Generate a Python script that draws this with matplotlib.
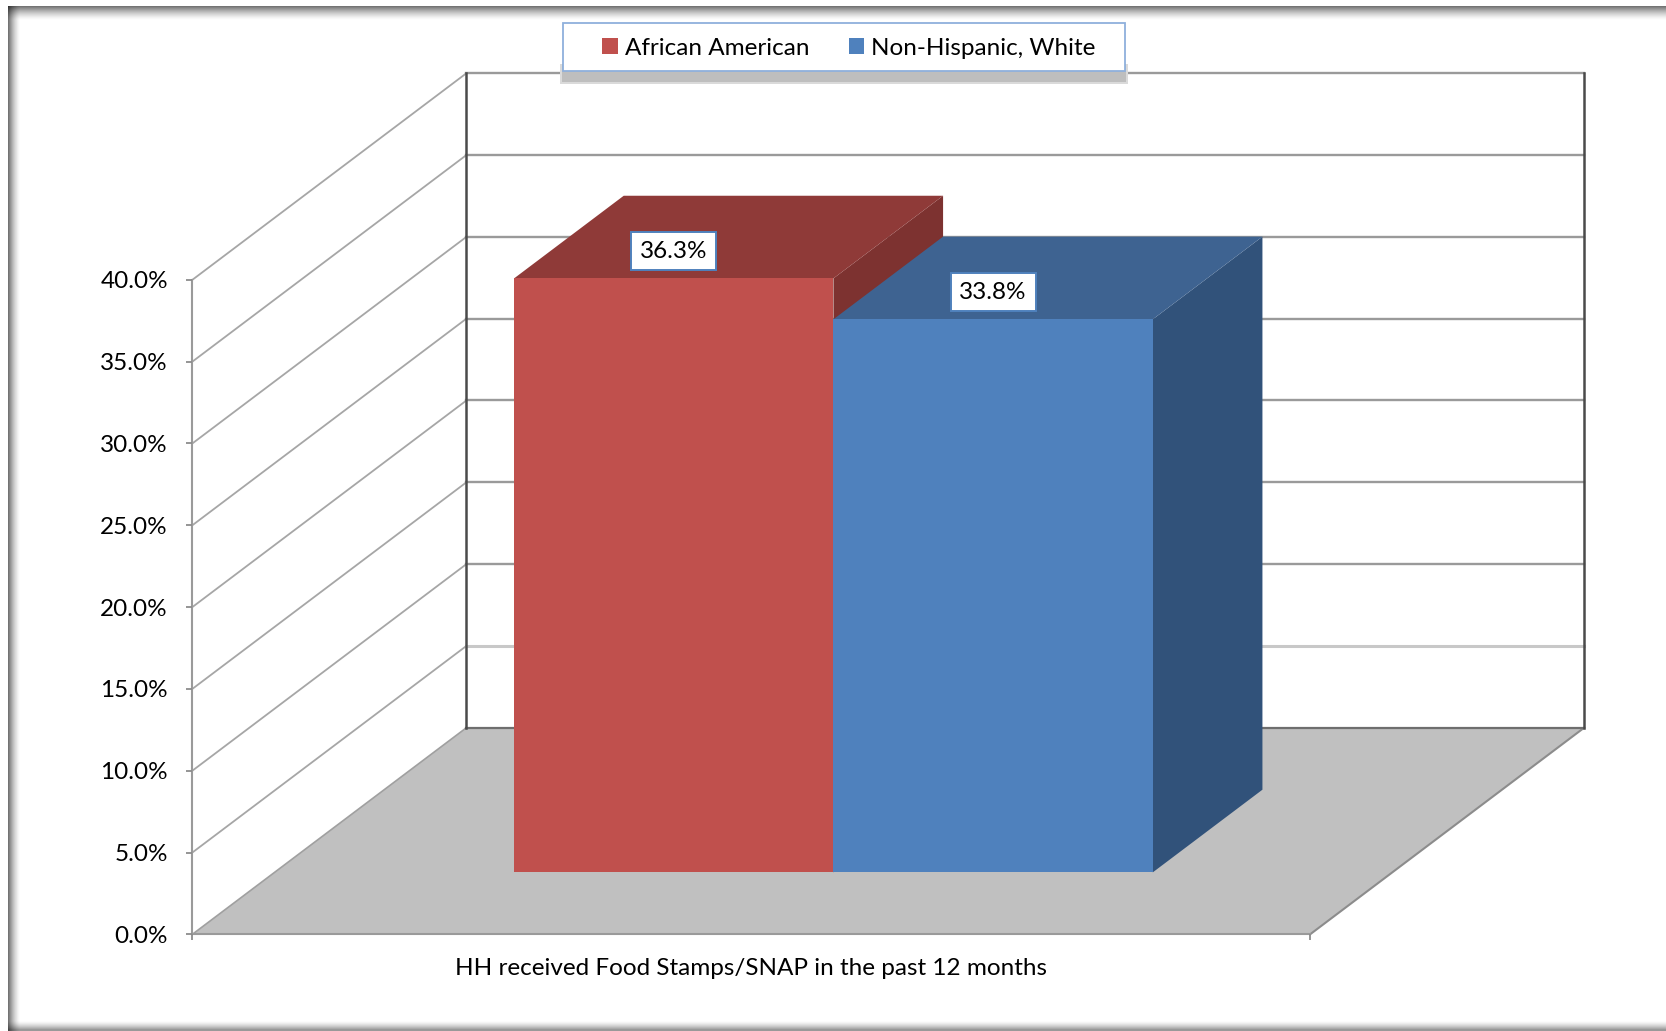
import numpy as np
import matplotlib
matplotlib.use("Agg")
import matplotlib.pyplot as plt
from matplotlib.patches import Polygon, Patch, Rectangle

series = ["African American", "Non-Hispanic, White"]
values = [36.3, 33.8]
category = "HH received Food Stamps/SNAP in the past 12 months"
y_ticks = [0, 5, 10, 15, 20, 25, 30, 35, 40]
front_colors = ["#C0504D", "#4F81BD"]
top_colors = ["#8F3A38", "#3E6391"]
side_colors = ["#7D3230", "#31527A"]

W, H = 1666, 1031
S = W / 1568
plt.rcParams["font.family"] = ["Lato", "DejaVu Sans"]
FS = 17.5
GRID = "#A6A6A6"
DARK = "#4A4A4A"

fig = plt.figure(figsize=(W / 100, H / 100), dpi=100, facecolor="white")

# soft frame round the picture
bg = fig.add_axes([0, 0, 1, 1], zorder=0)
bg.axis("off")
yy, xx = np.mgrid[0:H, 0:W]
shade = np.ones((H, W))
shade *= 1 - 0.55 * np.clip(1 - (xx - 8) / 12, 0, 1) ** 1.5
shade *= 1 - 0.55 * np.clip(1 - (yy - 6) / 14, 0, 1) ** 1.5
shade *= 1 - 0.40 * np.clip(1 - (1029 - yy) / 9, 0, 1) ** 1.5
shade[:, :8] = 1
shade[:6, :] = 1
bg.imshow(shade, cmap="gray", vmin=0, vmax=1, aspect="auto", interpolation="nearest")

# front plane of the 3-D box: x 0..1 across the category, y in percent
ax = fig.add_axes([181 * S / W, 1 - 879.4 * S / H, 1052 * S / W, 616 * S / H], zorder=1)
ax.patch.set_visible(False)
ax.set_xlim(0, 1)
ax.set_ylim(0, 40)
DX = 258 / 1052
DY = 194.5 / 15.4


def at(x, y, d):
    return (x + d * DX, y + d * DY)


ymax = y_ticks[-1]
# floor
ax.add_patch(Polygon([at(0, 0, 0), at(1, 0, 0), at(1, 0, 1), at(0, 0, 1)], closed=True,
                     facecolor="#C0C0C0", edgecolor="none", zorder=1, clip_on=False))
ax.plot(*zip(at(1, 0, 0), at(1, 0, 1)), color="#8C8C8C", lw=1.5, zorder=1.2, clip_on=False)
ax.plot(*zip(at(0, 0, 0), at(0, 0, 1)), color="#A0A0A0", lw=1.2, zorder=1.2, clip_on=False)

# walls
for t in y_ticks[1:]:
    ax.plot(*zip(at(0, t, 0), at(0, t, 1)), color=GRID, lw=1.3, zorder=1.1, clip_on=False)
    light = t == 5
    ax.plot(*zip(at(0, t, 1), at(1, t, 1)), color="#C8C8C8" if light else "#9A9A9A",
            lw=2.2 if light else 1.7, zorder=1.1, clip_on=False)
ax.plot(*zip(at(0, 0, 1), at(1, 0, 1)), color="#6E6E6E", lw=1.6, zorder=1.3, clip_on=False)
for x in (0, 1):
    ax.plot(*zip(at(x, 0, 1), at(x, ymax, 1)), color=DARK, lw=1.8, zorder=1.4, clip_on=False)

# bars: two bars with 150% gap, 30..70% of the depth
n = len(values)
bw = 1 / (n + 1.5)
d0, d1 = 0.3, 0.7
for i, v in enumerate(values):
    left = 0.75 * bw + i * bw
    right = left + bw
    bx, by = at(left, 0, d0)
    zb = 3 + i
    ax.bar(bx, v, width=bw, bottom=by, align="edge", color=front_colors[i],
           linewidth=0, zorder=zb + 0.2, clip_on=False)
    ax.add_patch(Polygon([at(right, 0, d0), at(right, 0, d1), at(right, v, d1), at(right, v, d0)],
                         closed=True, facecolor=side_colors[i], edgecolor="none", zorder=zb, clip_on=False))
    ax.add_patch(Polygon([at(left, v, d0), at(right, v, d0), at(right, v, d1), at(left, v, d1)],
                         closed=True, facecolor=top_colors[i], edgecolor="none", zorder=zb + 0.1, clip_on=False))
    ax.text(bx + bw / 2, by + v + 1.66, f"{v:.1f}%", ha="center", va="center", fontsize=FS,
            color="black", zorder=8, clip_on=False,
            bbox=dict(boxstyle="square,pad=0.36", facecolor="white", edgecolor="#4F81BD", linewidth=1.4))

# axes
for side in ("top", "right"):
    ax.spines[side].set_visible(False)
for side in ("left", "bottom"):
    ax.spines[side].set_color("#9A9A9A")
    ax.spines[side].set_linewidth(1.5)
    ax.spines[side].set_zorder(1.5)
ax.set_yticks(y_ticks)
ax.set_yticklabels([f"{t:.1f}%" for t in y_ticks], fontsize=FS, color="black")
ax.tick_params(axis="y", length=4.6, width=1.3, color="#8C8C8C", pad=13)
ax.set_xticks([0.5])
ax.set_xticklabels([category], fontsize=FS, color="black")
ax.tick_params(axis="x", which="major", length=0, pad=17)
ax.set_xticks([0, 1], minor=True)
ax.tick_params(axis="x", which="minor", length=4.6, width=1.3, color="#8C8C8C")

# legend box with its shadow
def box(x0, y0, x1, y1, **kw):
    fig.add_artist(Rectangle((x0 * S / W, 1 - y1 * S / H), (x1 - x0) * S / W, (y1 - y0) * S / H,
                             transform=fig.transFigure, **kw))


box(527.5, 60, 1061.5, 79, facecolor="#DADADA", edgecolor="none", zorder=5)
box(529, 60, 1060, 77.5, facecolor="#BEBEBE", edgecolor="none", zorder=5.1)
box(530, 22, 1059, 67, facecolor="white", edgecolor="#8FB0DC", linewidth=1.3, zorder=5.2)

handles = [Patch(facecolor=c, edgecolor="none", label=s) for c, s in zip(front_colors, series)]
leg = fig.legend(handles=handles, ncol=2, loc="center", frameon=False,
                 bbox_to_anchor=(799 * S / W, 1 - 45.3 * S / H), bbox_transform=fig.transFigure,
                 fontsize=FS, handlelength=0.62, handleheight=0.62, handletextpad=0.3,
                 columnspacing=1.62, borderpad=0, borderaxespad=0)
leg.set_zorder(6)

fig.savefig("out.png", dpi=100)
